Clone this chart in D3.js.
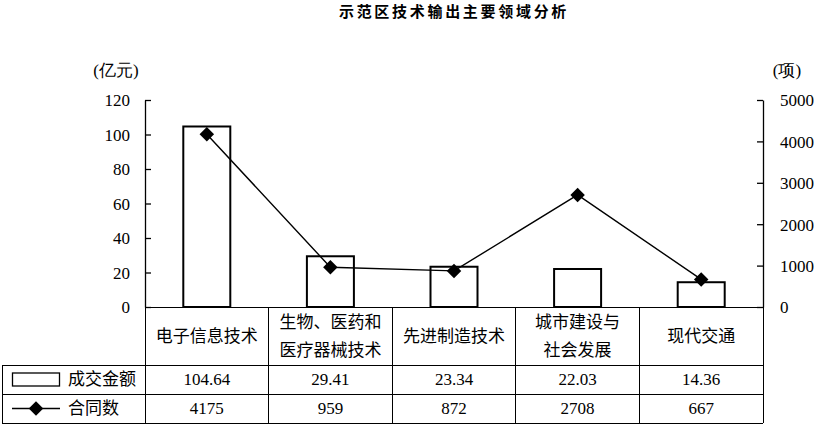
<html>
  <head>
    <meta charset="utf-8">
    <style>
      body { margin: 0; background: #fff; }
      text { fill: #000; }
      .num { font-family: "Liberation Serif", "Times New Roman", Times, serif; font-size: 17px; }
      .cn { font-family: "Noto Sans CJK SC", sans-serif; font-size: 17px; }
      .axis path, .axis line { stroke: #000; stroke-width: 1.3; }
      .grid { stroke: #000; stroke-width: 1; shape-rendering: crispEdges; }
    </style>
  </head>
<body>
  <svg width="820" height="428"></svg>
  <script src="https://d3js.org/d3.v7.min.js"></script>
  <script>
    var categories = [["电子信息技术"], ["生物、医药和", "医疗器械技术"], ["先进制造技术"], ["城市建设与", "社会发展"], ["现代交通"]];
    var amounts = [104.64, 29.41, 23.34, 22.03, 14.36];
    var contracts = [4175, 959, 872, 2708, 667];
    var leftTicks = [0, 20, 40, 60, 80, 100, 120];
    var rightTicks = [0, 1000, 2000, 3000, 4000, 5000];

    var svg = d3.select("svg");
    var margin = {top: 100, left: 145, right: 57};
    var width = 820 - margin.left - margin.right;
    var plotH = 207;
    var rowTop = [307, 365, 394, 423];

    var keys = categories.map(function(d, i) { return i; });
    var x = d3.scaleBand().domain(keys).range([0, width]).paddingInner(0).paddingOuter(0);
    var yL = d3.scaleLinear().domain([0, 120]).range([plotH, 0]);
    var yR = d3.scaleLinear().domain([0, 5000]).range([plotH, 0]);

    // title
    svg.append("text").attr("class", "cn")
      .attr("x", 454).attr("y", 17)
      .attr("text-anchor", "middle")
      .style("font-size", "15px").style("letter-spacing", "2.7px").style("font-weight", "bold")
      .text("示范区技术输出主要领域分析");

    var g = svg.append("g").attr("transform", "translate(" + margin.left + "," + margin.top + ")");

    // bars
    var bw = 47;
    g.selectAll(".bar").data(amounts).enter().append("rect")
      .attr("x", function(d, i) { return x(i) + x.bandwidth() / 2 - bw / 2; })
      .attr("y", function(d) { return yL(d); })
      .attr("width", bw)
      .attr("height", function(d) { return plotH - yL(d); })
      .attr("fill", "#fff").attr("stroke", "#000").attr("stroke-width", 2);

    // axes
    function styleAxis(a) {
      a.attr("font-family", null).attr("font-size", null);
      a.selectAll("text").attr("dy", "0.35em").attr("class", "num");
    }
    g.append("g").attr("class", "axis")
      .call(d3.axisLeft(yL).tickValues(leftTicks).tickSize(-6).tickSizeOuter(0).tickPadding(15))
      .call(styleAxis);
    g.append("g").attr("class", "axis").attr("transform", "translate(" + width + ",0)")
      .call(d3.axisRight(yR).tickValues(rightTicks).tickFormat(d3.format("d"))
        .tickSize(-6).tickSizeOuter(0).tickPadding(17))
      .call(styleAxis);

    svg.append("text").attr("class", "num").attr("x", 116).attr("y", 76).attr("text-anchor", "middle").text("(亿元)");
    svg.append("text").attr("class", "num").attr("x", 787).attr("y", 76).attr("text-anchor", "middle").text("(项)");

    // line + diamonds
    var line = d3.line()
      .x(function(d, i) { return x(i) + x.bandwidth() / 2; })
      .y(function(d) { return yR(d); });
    g.append("path").datum(contracts).attr("d", line)
      .attr("fill", "none").attr("stroke", "#000").attr("stroke-width", 1.4);
    var diamond = d3.symbol().type(d3.symbolSquare).size(105);
    g.selectAll(".pt").data(contracts).enter().append("path")
      .attr("d", diamond)
      .attr("transform", function(d, i) {
        return "translate(" + (x(i) + x.bandwidth() / 2) + "," + yR(d) + ") rotate(45)";
      });

    // data table
    var x1 = margin.left + width;
    svg.append("line").attr("class", "grid").attr("x1", margin.left).attr("x2", x1).attr("y1", rowTop[0]).attr("y2", rowTop[0]);
    [1, 2, 3].forEach(function(r) {
      svg.append("line").attr("class", "grid").attr("x1", 2).attr("x2", x1).attr("y1", rowTop[r]).attr("y2", rowTop[r]);
    });
    svg.append("line").attr("class", "grid").attr("x1", 2).attr("x2", 2).attr("y1", rowTop[1]).attr("y2", rowTop[3]);
    keys.concat([keys.length]).forEach(function(i) {
      var xx = margin.left + (i < keys.length ? x(i) : width);
      svg.append("line").attr("class", "grid").attr("x1", xx).attr("x2", xx)
        .attr("y1", i === 0 || i === keys.length ? rowTop[0] - 4 : rowTop[0]).attr("y2", rowTop[3]);
    });

    var cells = svg.append("g").attr("transform", "translate(" + margin.left + ",0)");
    categories.forEach(function(lines, i) {
      var cx = x(i) + x.bandwidth() / 2;
      lines.forEach(function(t, j) {
        cells.append("text").attr("class", "cn")
          .attr("x", cx)
          .attr("y", (rowTop[0] + rowTop[1]) / 2 + (j - (lines.length - 1) / 2) * 28)
          .attr("dy", "0.35em").attr("text-anchor", "middle").text(t);
      });
      cells.append("text").attr("class", "num").attr("x", cx).attr("y", (rowTop[1] + rowTop[2]) / 2)
        .attr("dy", "0.35em").attr("text-anchor", "middle")
        .text(d3.format(".2f")(amounts[i]));
      cells.append("text").attr("class", "num").attr("x", cx).attr("y", (rowTop[2] + rowTop[3]) / 2)
        .attr("dy", "0.35em").attr("text-anchor", "middle")
        .text(contracts[i]);
    });

    // legend in table
    var ly1 = (rowTop[1] + rowTop[2]) / 2, ly2 = (rowTop[2] + rowTop[3]) / 2;
    svg.append("rect").attr("x", 12.5).attr("y", ly1 - 6.5).attr("width", 47).attr("height", 13)
      .attr("fill", "#fff").attr("stroke", "#000").attr("stroke-width", 1.3);
    svg.append("text").attr("class", "cn").attr("x", 68).attr("y", ly1).attr("dy", "0.35em").text("成交金额");
    svg.append("line").attr("x1", 12).attr("x2", 60).attr("y1", ly2).attr("y2", ly2)
      .attr("stroke", "#000").attr("stroke-width", 1.4);
    svg.append("path").attr("d", diamond).attr("transform", "translate(36," + ly2 + ") rotate(45)");
    svg.append("text").attr("class", "cn").attr("x", 68).attr("y", ly2).attr("dy", "0.35em").text("合同数");
  </script>
</body>
</html>
